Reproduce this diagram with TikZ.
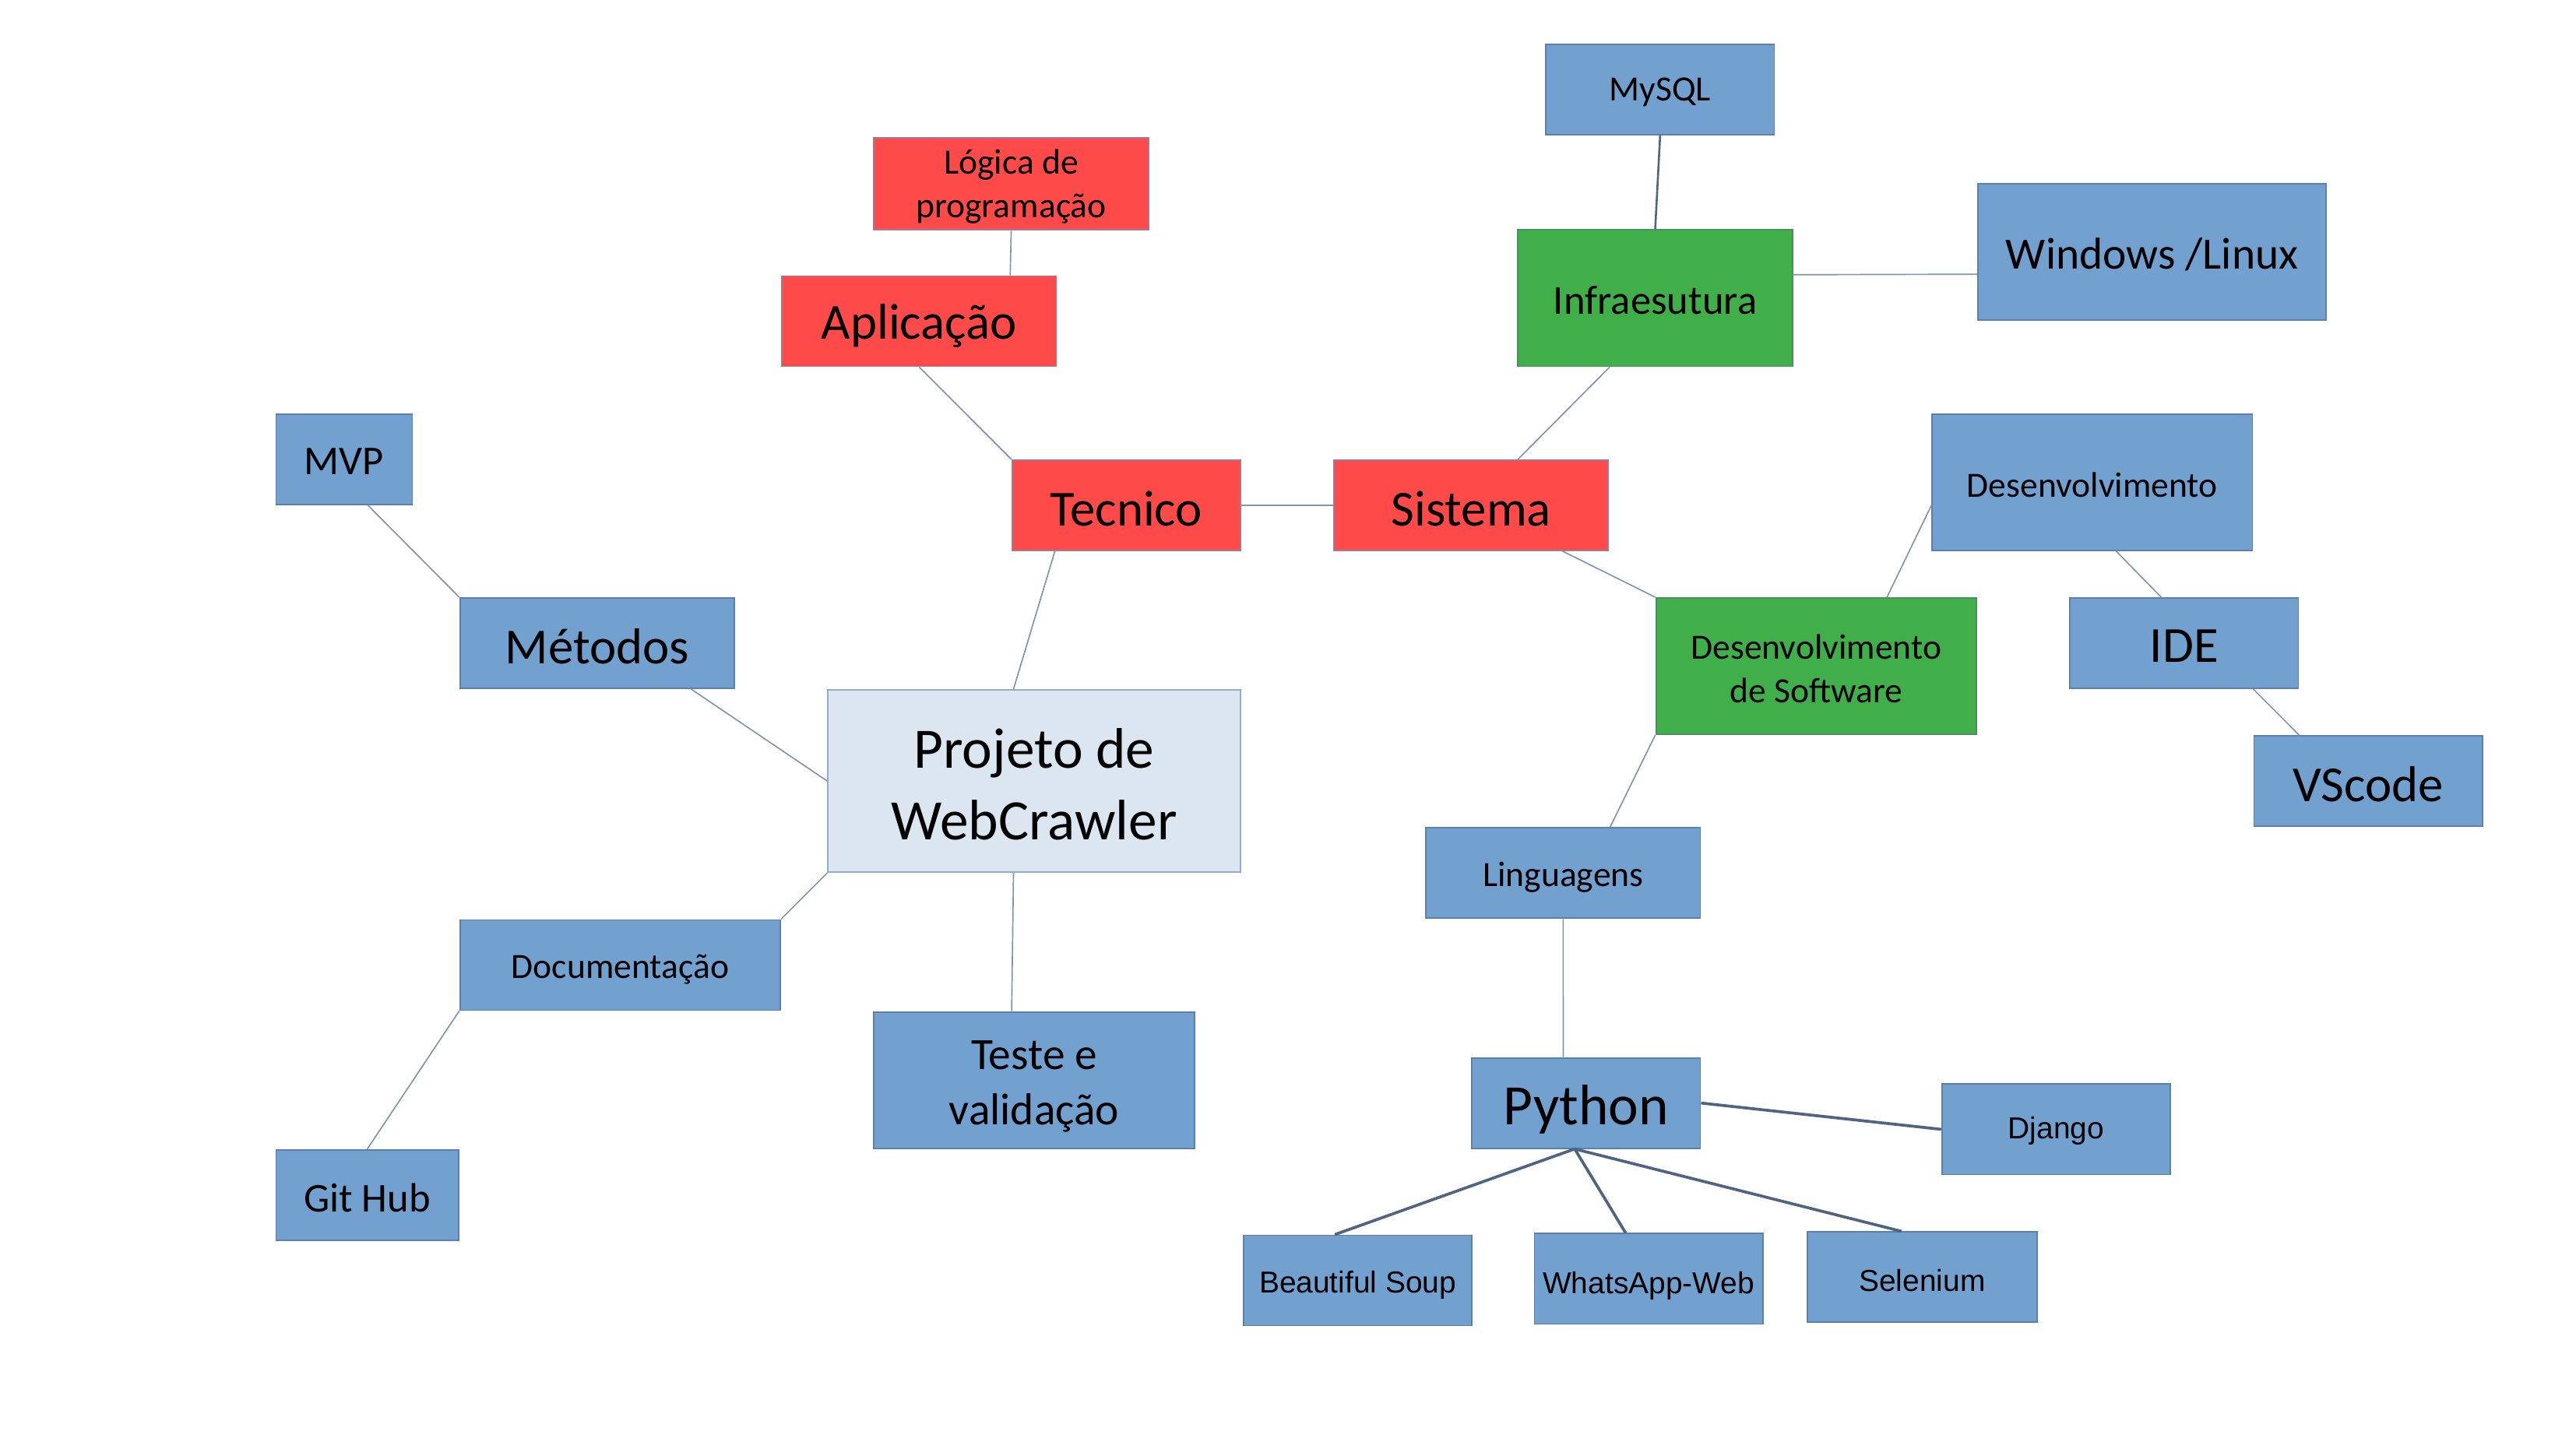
\documentclass[tikz,border=0pt]{standalone}
\usepackage{fontspec}
\setmainfont{Carlito}
\newfontfamily\arialf{Liberation Sans}
\usetikzlibrary{calc}
\definecolor{redfill}{HTML}{FF4A4A}
\definecolor{redline}{HTML}{A07A9A}
\definecolor{greenfill}{HTML}{40AF4A}
\definecolor{greenline}{HTML}{4A8E63}
\definecolor{bluefill}{HTML}{72A0CF}
\definecolor{blueline}{HTML}{5B80AC}
\definecolor{projfill}{HTML}{DCE6F0}
\definecolor{projline}{HTML}{92ACCB}
\definecolor{conn}{HTML}{7F95AE}
\definecolor{connd}{HTML}{4F6482}
\tikzset{
  boxbase/.style={rectangle, inner sep=0pt, line width=0.5pt},
  redbox/.style={boxbase, fill=redfill, draw=redline},
  greenbox/.style={boxbase, fill=greenfill, draw=greenline},
  bluebox/.style={boxbase, fill=bluefill, draw=blueline},
  projbox/.style={boxbase, fill=projfill, draw=projline},
  lbl/.style={inner sep=0pt, align=center, text=black},
  big/.style={font=\fontsize{17.5}{21}\selectfont},
  huge/.style={font=\fontsize{19.8}{25}\selectfont},
  med/.style={font=\fontsize{15.5}{19}\selectfont},
  mid/.style={font=\fontsize{14.2}{17}\selectfont},
  small/.style={font=\fontsize{12.3}{15.2}\selectfont},
  ari/.style={font=\arialf\fontsize{10.5}{12}\selectfont},
  link/.style={draw=conn, line width=0.45pt},
  linkd/.style={draw=connd, line width=1.0pt},
}
% #1 name, #2-#5 box corners, #6 box style, #7 font style, #8 text shift, #9 text
\newcommand{\mybox}[9]{%
  \node[#6, minimum width={(#4-#2)*0.02cm}, minimum height={(#5-#3)*0.02cm}] (#1) at ({(#2+#4)/2},{(#3+#5)/2}) {};
  \node[lbl,#7] (#1t) at ($(#1.center)+(0,#8)$) {#9};}
\begin{document}
\begin{tikzpicture}[x=0.02cm, y=-0.02cm]
\useasboundingbox (0,0) rectangle (1568,882);
% nodes
\mybox{log}{532}{84}{699}{140}{redbox}{small}{1.5}{Lógica de\\programação}
\mybox{apl}{476}{168}{643}{223}{redbox}{big}{3}{Aplicação}
\mybox{tec}{616}{280}{755}{335}{redbox}{big}{2}{Tecnico}
\mybox{sis}{812}{280}{979}{335}{redbox}{big}{2}{Sistema}
\mybox{mys}{941}{27}{1080}{82}{bluebox}{small}{1.5}{MySQL}
\mybox{inf}{924}{140}{1091}{223}{greenbox}{mid}{1.5}{Infraesutura}
\mybox{win}{1204}{112}{1416}{195}{bluebox}{med}{1.5}{Windows /Linux}
\mybox{dev}{1176}{252}{1371}{335}{bluebox}{small}{1.5}{Desenvolvimento}
\mybox{dsw}{1008}{364}{1203}{447}{greenbox}{small}{1.5}{Desenvolvimento\\de Software}
\mybox{ide}{1260}{364}{1399}{419}{bluebox}{big}{2}{IDE}
\mybox{vsc}{1372}{448}{1511}{503}{bluebox}{big}{2}{VScode}
\mybox{mvp}{168}{252}{251}{307}{bluebox}{mid}{1.5}{MVP}
\mybox{met}{280}{364}{447}{419}{bluebox}{big}{2}{Métodos}
\mybox{proj}{504}{420}{755}{531}{projbox}{huge}{2}{Projeto de\\WebCrawler}
\mybox{doc}{280}{560}{475}{615}{bluebox}{small}{2.5}{Documentação}
\mybox{tst}{532}{616}{727}{699}{bluebox}{med}{4}{Teste e\\validação}
\mybox{git}{168}{700}{279}{755}{bluebox}{mid}{1.5}{Git Hub}
\mybox{lin}{868}{504}{1035}{559}{bluebox}{small}{2.5}{Linguagens}
\mybox{py}{896}{644}{1035}{699}{bluebox}{huge}{4}{Python}
\mybox{dja}{1182}{660}{1321}{715}{bluebox}{ari}{1}{Django}
\mybox{bs}{757}{752}{896}{807}{bluebox}{ari}{3}{Beautiful Soup}
\mybox{wa}{934}{751}{1073}{806}{bluebox}{ari}{4.5}{WhatsApp-Web}
\mybox{sel}{1100}{750}{1240}{805}{bluebox}{ari}{2}{Selenium}
% connectors
\draw[link] (log.south) -- ($(apl.north west)!0.83!(apl.north east)$);
\draw[link] (apl.south) -- (tec.north west);
\draw[link] (tec.east) -- (sis.west);
\draw[link] ($(tec.south west)!0.19!(tec.south east)$) -- ($(proj.north west)!0.45!(proj.north east)$);
\draw[link] ($(sis.north west)!0.67!(sis.north east)$) -- ($(inf.south west)!0.335!(inf.south east)$);
\draw[draw=connd, line width=0.7pt] (mys.south) -- (inf.north);
\draw[link] ($(inf.north east)!0.33!(inf.south east)$) -- ($(win.north west)!0.66!(win.south west)$);
\draw[link] ($(sis.south west)!0.83!(sis.south east)$) -- (dsw.north west);
\draw[link] ($(dsw.north west)!0.72!(dsw.north east)$) -- ($(dev.north west)!0.67!(dev.south west)$);
\draw[link] ($(dev.south west)!0.574!(dev.south east)$) -- ($(ide.north west)!0.40!(ide.north east)$);
\draw[link] ($(ide.south west)!0.8!(ide.south east)$) -- ($(vsc.north west)!0.2!(vsc.north east)$);
\draw[link] (dsw.south west) -- ($(lin.north west)!0.67!(lin.north east)$);
\draw[link] (lin.south) -- ($(py.north west)!0.40!(py.north east)$);
\draw[linkd] (py.east) -- (dja.west);
\coordinate (pyb) at ($(py.south west)!0.45!(py.south east)$);
\draw[linkd] (pyb) -- ($(bs.north west)!0.40!(bs.north east)$);
\draw[linkd] (pyb) -- ($(wa.north west)!0.40!(wa.north east)$);
\draw[linkd] (pyb) -- ($(sel.north west)!0.41!(sel.north east)$);
\draw[link] ($(mvp.south west)!0.67!(mvp.south east)$) -- (met.north west);
\draw[link] ($(met.south west)!0.84!(met.south east)$) -- (proj.west);
\draw[link] (proj.south west) -- (doc.north east);
\draw[link] ($(proj.south west)!0.45!(proj.south east)$) -- ($(tst.north west)!0.43!(tst.north east)$);
\draw[link] (doc.south west) -- (git.north);
\end{tikzpicture}
\end{document}
